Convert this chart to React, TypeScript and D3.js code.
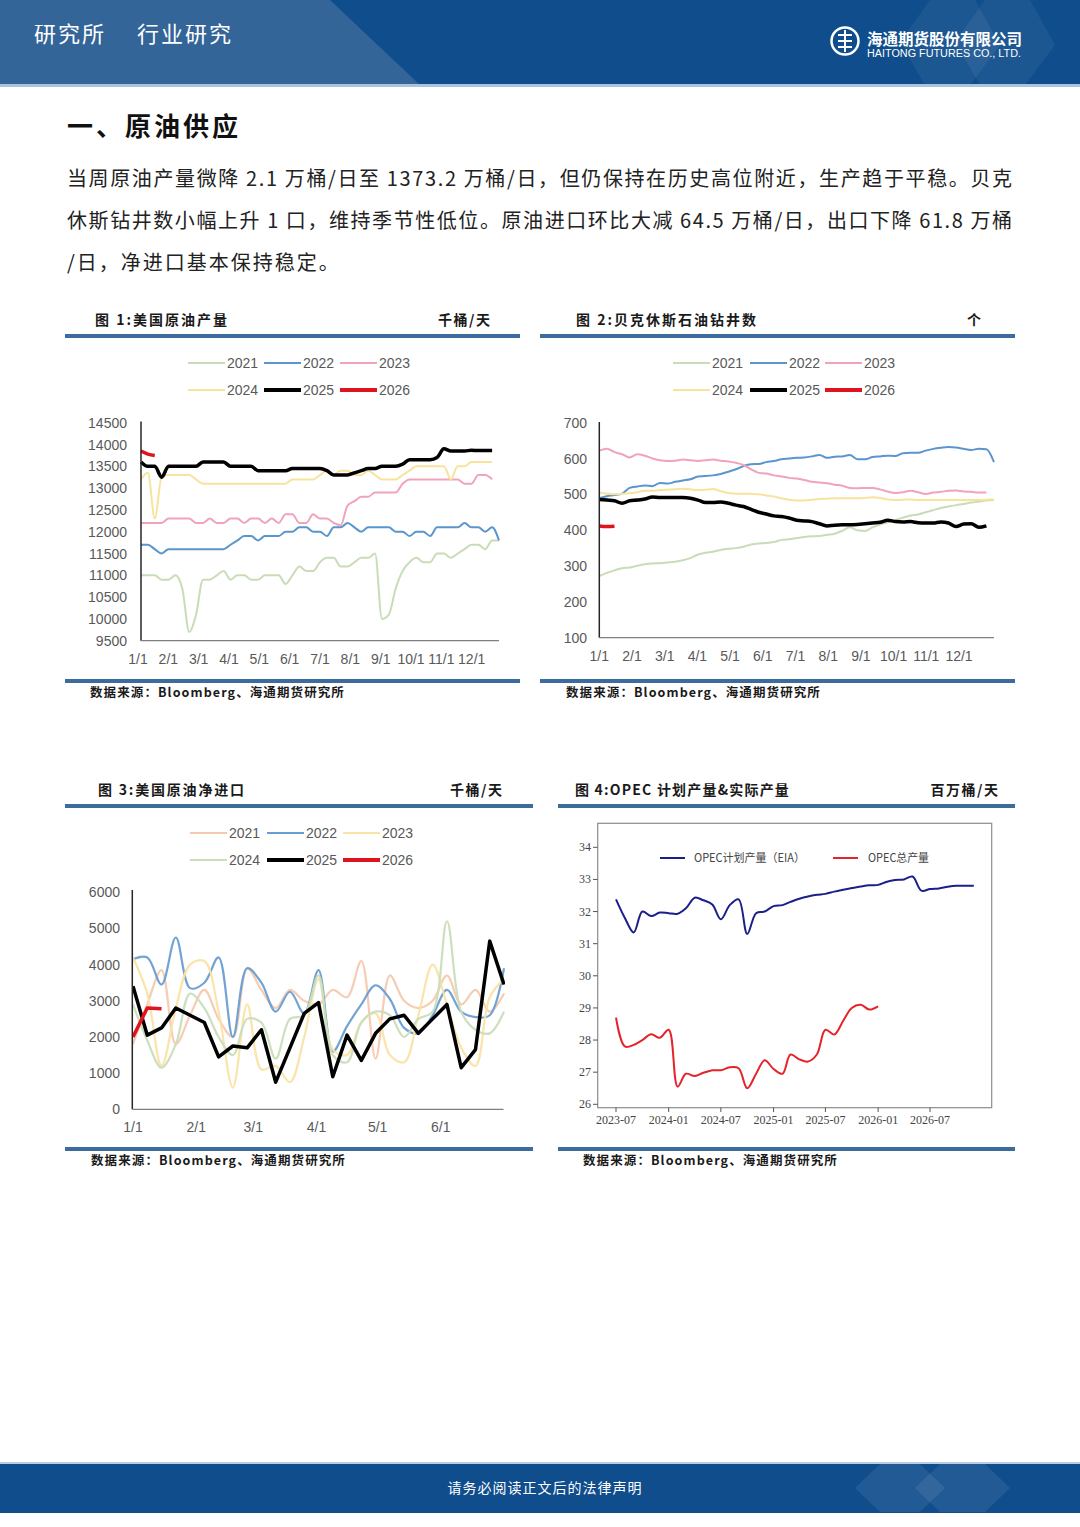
import React from 'react';
import * as d3 from 'd3';

const CJK = '"Noto Sans CJK SC", sans-serif';
const SANS = '"Liberation Sans", Arial, sans-serif';
const SERIF = '"Liberation Serif", "DejaVu Serif", serif';

const YEARS = ['2021', '2022', '2023', '2024', '2025', '2026'];

// ---------- Chart 1: US crude production (kb/d), weekly ----------
const C1_YTICKS = [9500, 10000, 10500, 11000, 11500, 12000, 12500, 13000, 13500, 14000, 14500];
const C1_XLABELS = ['1/1', '2/1', '3/1', '4/1', '5/1', '6/1', '7/1', '8/1', '9/1', '10/1', '11/1', '12/1'];
const C1_2021 = [11000, 11000, 11000, 10900, 10900, 11000, 10700, 9700, 10100, 10900, 10900, 11000, 11100, 10900, 11000, 11000, 10900, 10900, 11000, 11000, 11000, 10800, 11000, 11200, 11100, 11100, 11300, 11400, 11400, 11200, 11200, 11300, 11400, 11400, 11500, 10000, 10100, 10700, 11100, 11300, 11400, 11300, 11300, 11500, 11500, 11400, 11500, 11600, 11700, 11700, 11600, 11800, 11800];
const C1_2022 = [11700, 11700, 11600, 11500, 11600, 11600, 11600, 11600, 11600, 11600, 11600, 11600, 11600, 11700, 11800, 11900, 11900, 11800, 11900, 11900, 11900, 12000, 12000, 12100, 12100, 12000, 12000, 11900, 12100, 12100, 12200, 12100, 12000, 12100, 12100, 12100, 12100, 12000, 12000, 11900, 12000, 12000, 11900, 12100, 12100, 12100, 12100, 12200, 12100, 12100, 12000, 12100, 11800];
const C1_2023 = [12200, 12200, 12200, 12200, 12300, 12300, 12300, 12300, 12200, 12200, 12300, 12200, 12200, 12300, 12300, 12200, 12300, 12300, 12200, 12300, 12200, 12400, 12400, 12200, 12200, 12400, 12300, 12300, 12200, 12150, 12600, 12700, 12800, 12800, 12900, 12900, 12900, 12900, 13100, 13200, 13200, 13200, 13200, 13200, 13200, 13200, 13200, 13100, 13100, 13300, 13300, 13200];
const C1_2024 = [13200, 13350, 12300, 13250, 13300, 13300, 13300, 13300, 13200, 13100, 13100, 13100, 13100, 13100, 13100, 13100, 13100, 13100, 13100, 13100, 13100, 13100, 13200, 13200, 13200, 13200, 13300, 13400, 13300, 13400, 13400, 13300, 13300, 13400, 13300, 13200, 13200, 13200, 13300, 13400, 13500, 13500, 13500, 13500, 13500, 13200, 13500, 13500, 13600, 13600, 13600, 13600];
const C1_2025 = [13600, 13500, 13500, 13250, 13500, 13500, 13500, 13500, 13500, 13600, 13600, 13600, 13600, 13500, 13500, 13500, 13500, 13400, 13400, 13400, 13400, 13400, 13450, 13450, 13450, 13450, 13450, 13400, 13300, 13300, 13300, 13350, 13400, 13450, 13450, 13500, 13500, 13500, 13550, 13650, 13650, 13650, 13650, 13700, 13900, 13850, 13850, 13850, 13870, 13860, 13860, 13860];
const C1_2026 = [13850, 13780, 13750];

// ---------- Chart 2: Baker Hughes oil rigs, weekly ----------
const C2_YTICKS = [100, 200, 300, 400, 500, 600, 700];
const C2_XLABELS = ['1/1', '2/1', '3/1', '4/1', '5/1', '6/1', '7/1', '8/1', '9/1', '10/1', '11/1', '12/1'];
const C2_2021 = [272, 281, 288, 294, 296, 301, 305, 307, 308, 310, 312, 316, 322, 332, 337, 340, 345, 348, 350, 354, 360, 363, 364, 367, 373, 375, 378, 381, 383, 384, 387, 390, 398, 408, 400, 398, 408, 416, 422, 428, 435, 441, 444, 450, 456, 462, 466, 470, 473, 477, 480, 483, 484];
const C2_2022 = [489, 495, 498, 502, 518, 522, 525, 523, 532, 530, 535, 539, 542, 550, 551, 553, 557, 563, 570, 579, 584, 585, 590, 593, 598, 600, 602, 603, 606, 610, 602, 605, 606, 610, 598, 598, 604, 606, 608, 607, 615, 616, 616, 622, 627, 630, 632, 631, 627, 624, 627, 626, 590];
const C2_2023 = [622, 627, 618, 612, 603, 612, 608, 600, 595, 593, 594, 597, 595, 593, 595, 597, 594, 592, 588, 582, 570, 560, 558, 553, 550, 546, 544, 540, 535, 533, 531, 527, 524, 518, 517, 518, 518, 514, 508, 504, 506, 510, 506, 501, 505, 507, 510, 511, 508, 507, 505, 505];
const C2_2024 = [505, 502, 500, 502, 503, 506, 510, 510, 512, 513, 514, 516, 514, 512, 513, 515, 509, 504, 502, 502, 502, 500, 497, 494, 489, 485, 483, 483, 485, 487, 488, 489, 489, 489, 489, 490, 492, 490, 486, 484, 485, 486, 484, 484, 484, 484, 484, 484, 484, 484, 484, 485, 486];
const C2_2025 = [486, 484, 482, 475, 482, 484, 487, 493, 491, 491, 491, 491, 489, 484, 477, 477, 479, 475, 470, 466, 458, 450, 445, 440, 438, 434, 428, 426, 424, 418, 412, 414, 415, 415, 416, 418, 420, 422, 428, 424, 423, 424, 421, 420, 420, 423, 420, 410, 417, 418, 408, 412];
const C2_2026 = [412, 410, 411];

// ---------- Chart 3: US crude net imports (kb/d), weekly, H1 ----------
const C3_YTICKS = [0, 1000, 2000, 3000, 4000, 5000, 6000];
const C3_XLABELS = ['1/1', '2/1', '3/1', '4/1', '5/1', '6/1'];
const C3_XLABEL_DAYS = [0, 31, 59, 90, 120, 151];
const C3_2021 = [1800, 2900, 3850, 1800, 2600, 3300, 2500, 2000, 3900, 3300, 2800, 3300, 3000, 2900, 3300, 3100, 4100, 1400, 3700, 3000, 2800, 3000, 3700, 2900, 3300, 2700, 3200];
const C3_2022 = [4150, 4200, 3450, 4750, 3350, 3500, 4200, 2000, 3900, 3500, 2700, 3250, 2650, 3850, 1600, 2300, 2900, 3430, 3050, 2250, 2100, 2600, 3300, 2700, 2550, 2600, 3900];
const C3_2023 = [4200, 3200, 1200, 2800, 4000, 4100, 2700, 600, 2900, 1100, 1200, 750, 2000, 3600, 1650, 1500, 2400, 2650, 1500, 1300, 2600, 4000, 2900, 1700, 1200, 3100, 3600];
const C3_2024 = [2900, 1900, 1150, 1800, 3200, 2800, 2000, 1500, 2500, 2400, 1400, 2500, 2600, 3700, 1500, 1300, 2400, 2700, 2600, 2000, 2500, 2700, 5200, 2700, 2200, 2100, 2700];
const C3_2025 = [3400, 2050, 2250, 2800, 2600, 2400, 1450, 1750, 1700, 2200, 750, 1700, 2650, 2950, 900, 2050, 1350, 2100, 2500, 2600, 2100, 2500, 2900, 1150, 1650, 4650, 3450];
const C3_2026 = [2000, 2800, 2780];

// ---------- Chart 4: OPEC planned vs actual (mb/d), monthly from 2023-07 ----------
const C4_YTICKS = [26, 27, 28, 29, 30, 31, 32, 33, 34];
const C4_START = '2023-07';
const C4_PLAN = [32.38, 31.8, 31.35, 32.0, 31.86, 31.97, 31.95, 31.93, 32.1, 32.43, 32.35, 32.22, 31.76, 32.2, 32.38, 31.3, 31.95, 32.0, 32.17, 32.2, 32.3, 32.4, 32.47, 32.52, 32.55, 32.62, 32.68, 32.73, 32.78, 32.82, 32.83, 32.93, 32.98, 33.0, 33.09, 32.65, 32.7, 32.72, 32.77, 32.8, 32.8, 32.8];
const C4_ACTUAL = [28.7, 27.8, 27.85, 28.0, 28.18, 28.07, 28.32, 26.55, 26.95, 26.88, 26.98, 27.06, 27.06, 27.15, 27.12, 26.5, 26.95, 27.37, 27.1, 26.95, 27.55, 27.4, 27.33, 27.55, 28.32, 28.17, 28.6, 29.0, 29.1, 28.95, 29.05];
const C4_SERIES_NAMES = ['OPEC计划产量（EIA）', 'OPEC总产量'];

// ---------- styles ----------
const STYLE_A: Record<string, { c: string; w: number }> = {
  '2021': { c: '#c9dcb8', w: 2 },
  '2022': { c: '#5a95cd', w: 2 },
  '2023': { c: '#f0a3bb', w: 2 },
  '2024': { c: '#f8e39c', w: 2 },
  '2025': { c: '#000000', w: 3.5 },
  '2026': { c: '#e0141e', w: 3.5 },
};
const STYLE_B: Record<string, { c: string; w: number }> = {
  '2021': { c: '#f5c9ae', w: 2.2 },
  '2022': { c: '#6a9ed2', w: 2.2 },
  '2023': { c: '#fae3a6', w: 2.2 },
  '2024': { c: '#c9deba', w: 2.2 },
  '2025': { c: '#000000', w: 3.5 },
  '2026': { c: '#e0141e', w: 3.5 },
};

const PANEL_BLUE = '#3c6c9c';
const LABEL_GRAY = '#595959';

function pathOf(vals: number[], xf: (i: number) => number, y: (v: number) => number, curve: d3.CurveFactory) {
  return d3.line<number>().x((_, i) => xf(i)).y((d) => y(d)).curve(curve)(vals) || '';
}

function Legend({ xs, ys, styles }: { xs: number[]; ys: number[]; styles: Record<string, { c: string; w: number }> }) {
  return (
    <g>
      {YEARS.map((yr, i) => {
        const x0 = xs[i % 3];
        const yy = ys[Math.floor(i / 3)];
        const s = styles[yr];
        return (
          <g key={yr}>
            <line x1={x0} x2={x0 + 37} y1={yy} y2={yy} stroke={s.c} strokeWidth={s.w > 3 ? 4 : 2.2} />
            <text x={x0 + 39} y={yy + 5} fontSize={14} fill={LABEL_GRAY} fontFamily={SANS}>{yr}</text>
          </g>
        );
      })}
    </g>
  );
}

function Panel({ x0, x1, top, bottom, title, unit, titleX, unitX, source, sourceX, titleSpacing }: any) {
  return (
    <g>
      <text x={titleX} y={top - 9} fontSize={14} fontWeight={700} fill="#1a1a1a" fontFamily={CJK} letterSpacing={titleSpacing}>{title}</text>
      <text x={unitX + 1.5} y={top - 9} fontSize={14} fontWeight={700} fill="#1a1a1a" fontFamily={CJK} textAnchor="end" letterSpacing={1.5}>{unit}</text>
      <rect x={x0} y={top} width={x1 - x0} height={4} fill={PANEL_BLUE} />
      <rect x={x0} y={bottom} width={x1 - x0} height={4} fill={PANEL_BLUE} />
      <text x={sourceX} y={bottom + 18} fontSize={12.5} fontWeight={700} fill="#1a1a1a" fontFamily={CJK} letterSpacing={1.1}>{source}</text>
    </g>
  );
}

function Chart1() {
  const x = d3.scaleLinear().domain([0, 52]).range([141, 499]);
  const y = d3.scaleLinear().domain([9500, 14500]).range([640.7, 422.7]);
  const mx = d3.scaleLinear().domain([0, 11]).range([138, 471.7]);
  const data = [C1_2021, C1_2022, C1_2023, C1_2024, C1_2025, C1_2026];
  return (
    <g>
      <Panel x0={65} x1={520} top={334} bottom={679} title="图 1:美国原油产量" unit="千桶/天" titleX={95} unitX={490} titleSpacing={2} source="数据来源：Bloomberg、海通期货研究所" sourceX={90} />
      <Legend xs={[188, 264, 340]} ys={[363, 390]} styles={STYLE_A} />
      {C1_YTICKS.map((t) => (
        <text key={t} x={127} y={y(t) + 5} fontSize={14} fill={LABEL_GRAY} fontFamily={SANS} textAnchor="end">{t}</text>
      ))}
      {C1_XLABELS.map((l, i) => (
        <text key={l} x={mx(i)} y={664} fontSize={14} fill={LABEL_GRAY} fontFamily={SANS} textAnchor="middle">{l}</text>
      ))}
      {data.map((d, k) => (
        <path key={k} d={pathOf(d, x, y, d3.curveMonotoneX)} fill="none" stroke={STYLE_A[YEARS[k]].c} strokeWidth={STYLE_A[YEARS[k]].w} strokeLinejoin="round" />
      ))}
      <line x1={x(0)} x2={x(0)} y1={421.5} y2={y(9500)} stroke="#262626" strokeWidth={1.5} />
      <line x1={x(0)} x2={x(52)} y1={y(9500)} y2={y(9500)} stroke="#7f7f7f" strokeWidth={1.2} />
    </g>
  );
}

function Chart2() {
  const x = d3.scaleLinear().domain([0, 52]).range([599.3, 994]);
  const y = d3.scaleLinear().domain([100, 700]).range([637.7, 422.7]);
  const mx = d3.scaleLinear().domain([0, 11]).range([599.3, 959]);
  const data = [C2_2021, C2_2022, C2_2023, C2_2024, C2_2025, C2_2026];
  return (
    <g>
      <Panel x0={540} x1={1015} top={334} bottom={679} title="图 2:贝克休斯石油钻井数" unit="个" titleX={576} unitX={981} titleSpacing={2} source="数据来源：Bloomberg、海通期货研究所" sourceX={566} />
      <Legend xs={[673, 750, 825]} ys={[363, 390]} styles={STYLE_A} />
      {C2_YTICKS.map((t) => (
        <text key={t} x={587} y={y(t) + 5} fontSize={14} fill={LABEL_GRAY} fontFamily={SANS} textAnchor="end">{t}</text>
      ))}
      {C2_XLABELS.map((l, i) => (
        <text key={l} x={mx(i)} y={661} fontSize={14} fill={LABEL_GRAY} fontFamily={SANS} textAnchor="middle">{l}</text>
      ))}
      {data.map((d, k) => (
        <path key={k} d={pathOf(d, x, y, d3.curveMonotoneX)} fill="none" stroke={STYLE_A[YEARS[k]].c} strokeWidth={STYLE_A[YEARS[k]].w} strokeLinejoin="round" />
      ))}
      <line x1={x(0)} x2={x(0)} y1={422} y2={y(100)} stroke="#262626" strokeWidth={1.5} />
      <line x1={x(0)} x2={x(52)} y1={y(100)} y2={y(100)} stroke="#7f7f7f" strokeWidth={1.2} />
    </g>
  );
}

function Chart3() {
  const xd = d3.scaleLinear().domain([0, 182]).range([133, 504]);
  const xw = (i: number) => xd(i * 7);
  const y = d3.scaleLinear().domain([0, 6000]).range([1109.3, 892.3]);
  const data = [C3_2021, C3_2022, C3_2023, C3_2024, C3_2025, C3_2026];
  return (
    <g>
      <Panel x0={65} x1={533} top={804} bottom={1147} title="图 3:美国原油净进口" unit="千桶/天" titleX={98} unitX={502} titleSpacing={1.8} source="数据来源：Bloomberg、海通期货研究所" sourceX={91} />
      <Legend xs={[190, 267, 343]} ys={[833, 860]} styles={STYLE_B} />
      {C3_YTICKS.map((t) => (
        <text key={t} x={120} y={y(t) + 5} fontSize={14} fill={LABEL_GRAY} fontFamily={SANS} textAnchor="end">{t}</text>
      ))}
      {C3_XLABELS.map((l, i) => (
        <text key={l} x={xd(C3_XLABEL_DAYS[i])} y={1132} fontSize={14} fill={LABEL_GRAY} fontFamily={SANS} textAnchor="middle">{l}</text>
      ))}
      <clipPath id="c3clip"><rect x={133} y={870} width={372} height={240} /></clipPath>
      <g clipPath="url(#c3clip)">
        {data.map((d, k) => (
          <path key={k} d={pathOf(d, xw, y, k >= 4 ? d3.curveLinear : d3.curveCatmullRom.alpha(0.5))} fill="none" stroke={STYLE_B[YEARS[k]].c} strokeWidth={STYLE_B[YEARS[k]].w} strokeLinejoin="round" opacity={k >= 4 ? 1 : 0.95} />
        ))}
      </g>
      <line x1={132.3} x2={132.3} y1={890} y2={1109.3} stroke="#262626" strokeWidth={1.5} />
      <line x1={132.3} x2={503.5} y1={1109.3} y2={1109.3} stroke="#7f7f7f" strokeWidth={1.2} />
    </g>
  );
}

function Chart4() {
  const parse = d3.utcParse('%Y-%m');
  const start = parse(C4_START) as Date;
  const x = d3.scaleUtc().domain([start, d3.utcMonth.offset(start, 36)]).range([616, 930]);
  const y = d3.scaleLinear().domain([26, 34]).range([1104.3, 847.3]);
  const xm = (i: number) => x(d3.utcMonth.offset(start, i));
  const ticks = d3.range(0, 7).map((k) => d3.utcMonth.offset(start, k * 6));
  const fmt = d3.utcFormat('%Y-%m');
  return (
    <g>
      <Panel x0={558} x1={1015} top={804} bottom={1147} title="图 4:OPEC 计划产量&实际产量" unit="百万桶/天" titleX={575} unitX={998} titleSpacing={1.2} source="数据来源：Bloomberg、海通期货研究所" sourceX={583} />
      <rect x={597.7} y={823.3} width={394} height={284.4} fill="#ffffff" stroke="#8c8c8c" strokeWidth={1.2} />
      {C4_YTICKS.map((t) => (
        <g key={t}>
          <line x1={593} x2={597.7} y1={y(t)} y2={y(t)} stroke="#555" />
          <text x={591} y={y(t) + 4} fontSize={12} fill="#444" fontFamily={SERIF} textAnchor="end">{t}</text>
        </g>
      ))}
      {ticks.map((t) => (
        <g key={+t}>
          <line x1={x(t)} x2={x(t)} y1={1107.7} y2={1112} stroke="#555" />
          <text x={x(t)} y={1124} fontSize={12} fill="#444" fontFamily={SERIF} textAnchor="middle">{fmt(t)}</text>
        </g>
      ))}
      <path d={pathOf(C4_PLAN, xm, y, d3.curveCatmullRom.alpha(0.5))} fill="none" stroke="#1b1f8a" strokeWidth={2} />
      <path d={pathOf(C4_ACTUAL, xm, y, d3.curveCatmullRom.alpha(0.5))} fill="none" stroke="#e3242b" strokeWidth={2} />
      <line x1={660} x2={685} y1={858} y2={858} stroke="#1b1f8a" strokeWidth={2} />
      <text x={694} y={862} fontSize={11.5} fill="#444" fontFamily={CJK} textLength={111} lengthAdjust="spacingAndGlyphs">{C4_SERIES_NAMES[0]}</text>
      <line x1={833} x2={858} y1={858} y2={858} stroke="#e3242b" strokeWidth={2} />
      <text x={868} y={862} fontSize={11.5} fill="#444" fontFamily={CJK} textLength={61} lengthAdjust="spacingAndGlyphs">{C4_SERIES_NAMES[1]}</text>
    </g>
  );
}

function Header() {
  return (
    <g>
      <rect x={0} y={0} width={1080} height={85} fill="#0f4d8c" />
      <polygon points="0,0 330,0 420,85 0,85" fill="#336598" />
      <polygon points="930,0 975,0 1000,45 970,85 925,85 900,42" fill="#ffffff" opacity={0.06} />
      <polygon points="985,0 1030,0 1055,45 1025,85 980,85 955,42" fill="#ffffff" opacity={0.06} />
      <rect x={0} y={84} width={1080} height={3} fill="#a9c4df" />
      <text x={34} y={42} fontSize={22} fill="#ffffff" fontFamily={CJK} letterSpacing={2}>研究所</text>
      <text x={137} y={42} fontSize={22} fill="#ffffff" fontFamily={CJK} letterSpacing={2}>行业研究</text>
      <circle cx={845} cy={41} r={13.5} fill="none" stroke="#ffffff" strokeWidth={2.5} />
      <path d="M838,35 h14 M838,41 h14 M838,47 h14 M845,30 v22" stroke="#ffffff" strokeWidth={2} fill="none" />
      <text x={867} y={45} fontSize={15.5} fontWeight={700} fill="#ffffff" fontFamily={CJK} textLength={155} lengthAdjust="spacingAndGlyphs">海通期货股份有限公司</text>
      <text x={867} y={57} fontSize={10} fill="#ffffff" fontFamily={SANS} textLength={154} lengthAdjust="spacingAndGlyphs">HAITONG FUTURES CO., LTD.</text>
    </g>
  );
}

function Footer() {
  return (
    <g>
      <rect x={0} y={1462} width={1080} height={2} fill="#b8cde3" />
      <rect x={0} y={1464} width={1080} height={49} fill="#0f4d8c" />
      <polygon points="880,1464 920,1464 945,1488 920,1512 880,1512 855,1488" fill="#ffffff" opacity={0.08} />
      <polygon points="940,1464 985,1464 1010,1488 985,1512 940,1512 915,1488" fill="#ffffff" opacity={0.08} />
      <text x={545} y={1493} fontSize={14} fill="#ffffff" fontFamily={CJK} textAnchor="middle" letterSpacing={1}>请务必阅读正文后的法律声明</text>
    </g>
  );
}

const PARA = [
  '当周原油产量微降 2.1 万桶/日至 1373.2 万桶/日，但仍保持在历史高位附近，生产趋于平稳。贝克',
  '休斯钻井数小幅上升 1 口，维持季节性低位。原油进口环比大减 64.5 万桶/日，出口下降 61.8 万桶',
  '/日，净进口基本保持稳定。',
];

export default function App() {
  return (
    <svg width={1080} height={1527} viewBox="0 0 1080 1527" style={{ position: 'absolute', left: 0, top: 0, background: '#ffffff' }}>
      <rect x={0} y={0} width={1080} height={1527} fill="#ffffff" />
      <Header />
      <text x={67} y={136} fontSize={26} fontWeight={700} fill="#111" fontFamily={CJK} letterSpacing={3}>一、原油供应</text>
      {PARA.map((l, i) => (
        <text key={i} x={67} y={186 + i * 42} fontSize={20} fill="#222" fontFamily={CJK}
          {...(i < 2 ? { textLength: 945, lengthAdjust: 'spacing' } : { letterSpacing: 2 })}>{l}</text>
      ))}
      <Chart1 />
      <Chart2 />
      <Chart3 />
      <Chart4 />
      <Footer />
    </svg>
  );
}
